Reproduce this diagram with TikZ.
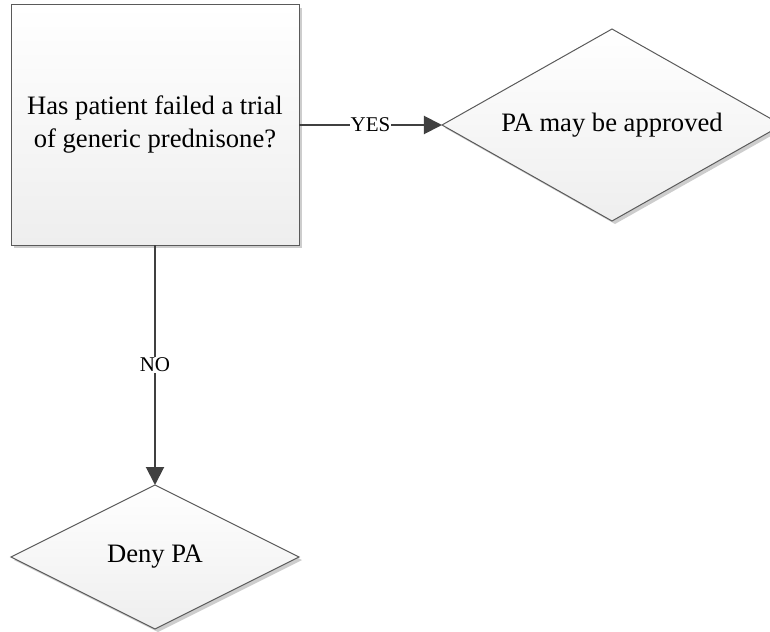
\documentclass[tikz,border=0pt]{standalone}
\usepackage{fontspec}
\setmainfont{Liberation Serif}
\usetikzlibrary{shapes.geometric}
\usetikzlibrary{arrows.meta,shadows}
\definecolor{linie}{RGB}{64,64,64}
\definecolor{rand}{RGB}{90,90,90}
\definecolor{schatten}{RGB}{205,205,205}
\definecolor{unten}{RGB}{238,238,238}

\begin{document}
\begin{tikzpicture}[x=0.5pt, y=-0.5pt,
    feld/.style={draw=rand, line width=0.5pt, top color=white, bottom color=unten,
        drop shadow={shadow xshift=1.5pt, shadow yshift=-1.5pt, fill=schatten, opacity=1},
        inner sep=0pt, outer sep=0pt, font=\fontsize{13.3}{16.5}\selectfont, align=center},
    frage/.style={feld, rectangle, minimum width=144pt, minimum height=120pt},
    raute/.style={feld, diamond},
    pfeil/.style={draw=linie, line width=1pt, -{Triangle[length=9pt, width=9pt]}},
    marke/.style={fill=white, inner sep=0.5pt, font=\fontsize{10.5}{12}\selectfont}]

    \useasboundingbox (0,0) rectangle (770,631);

    \node[frage] (frage) at (155,125) {Has patient failed a trial\\of generic prednisone?};
    \node[raute, aspect=1.77, minimum width=170pt, minimum height=96pt] (approved) at (612,125) {PA may be approved};
    \node[raute, aspect=2, minimum width=144pt, minimum height=72pt] (deny) at (155,557) {Deny PA};

    \draw[pfeil] (frage) -- node[marke] {YES} (approved);
    \draw[pfeil] (frage) -- node[marke] {NO} (deny);

\end{tikzpicture}
\end{document}
